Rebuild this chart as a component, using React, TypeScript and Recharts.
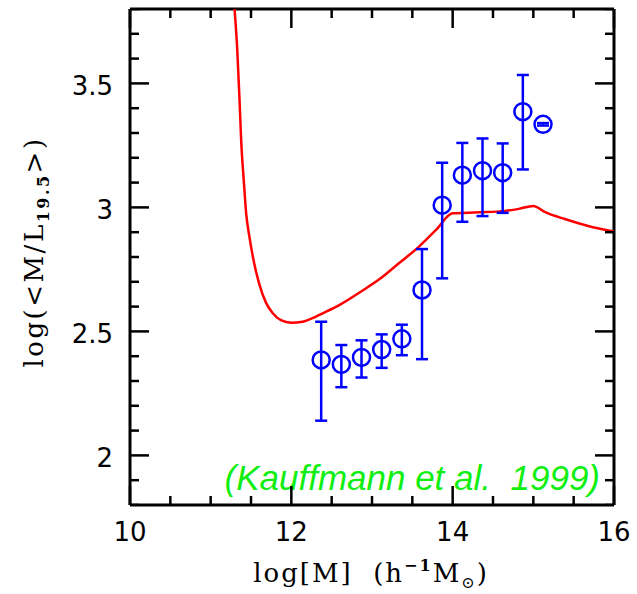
import {
  ComposedChart,
  Line,
  Scatter,
  ErrorBar,
  XAxis,
  YAxis,
  ReferenceLine,
} from "recharts";

// binned mass-to-light ratios with their error ranges
const massBins = [12.37, 12.62, 12.87, 13.12, 13.37, 13.62, 13.87, 14.12, 14.37, 14.62, 14.87, 15.12];
const mlValues = [2.385, 2.367, 2.395, 2.427, 2.47, 2.667, 3.009, 3.13, 3.148, 3.14, 3.386, 3.335];
const mlLower = [2.14, 2.275, 2.314, 2.353, 2.404, 2.388, 2.714, 2.942, 2.965, 2.978, 3.153, 3.33];
const mlUpper = [2.539, 2.445, 2.464, 2.488, 2.527, 2.832, 3.18, 3.26, 3.278, 3.258, 3.534, 3.34];

// model curve
const modelMass = [
  11.296, 11.33, 11.358, 11.378, 11.41, 11.44, 11.48, 11.54, 11.6, 11.69, 11.77, 11.87, 12.0,
  12.14, 12.3, 12.39, 12.61, 12.86, 13.09, 13.33, 13.58, 13.79, 14.0, 14.32, 14.65, 14.82,
  15.0, 15.14, 15.39, 15.68, 16.0,
];
const modelML = [
  3.8, 3.634, 3.433, 3.271, 3.11, 2.976, 2.882, 2.774, 2.694, 2.613, 2.573, 2.545, 2.535,
  2.539, 2.559, 2.573, 2.609, 2.66, 2.71, 2.774, 2.841, 2.908, 2.976, 2.98, 2.986, 2.994,
  3.006, 2.982, 2.953, 2.925, 2.903,
];

const xTicks = [10, 10.5, 11, 11.5, 12, 12.5, 13, 13.5, 14, 14.5, 15, 15.5, 16];
const xMajor = [10, 12, 14, 16];
const yTicks = [
  1.8, 1.9, 2.0, 2.1, 2.2, 2.3, 2.4, 2.5, 2.6, 2.7, 2.8, 2.9, 3.0, 3.1, 3.2, 3.3, 3.4, 3.5,
  3.6, 3.7, 3.8,
];
const yMajor = [2, 2.5, 3, 3.5];

const X_MIN = 10;
const X_MAX = 16;
const Y_MIN = 1.8;
const Y_MAX = 3.8;

const W = 637;
const H = 594;
const LEFT = 130;
const RIGHT = 614;
const TOP = 9;
const BOTTOM = 505;
const MINOR = 9;
const MAJOR = 19;

const isMajor = (v: number, list: number[]) => list.some((m) => Math.abs(m - v) < 1e-6);

const dataPoints = massBins.map((x, i) => ({
  kind: "point",
  x,
  y: mlValues[i],
  err: [mlValues[i] - mlLower[i], mlUpper[i] - mlValues[i]],
}));

// frame ticks: anchored on the frame, dx/dy point inwards
const frameTicks = [
  ...xTicks.flatMap((v) => {
    const len = isMajor(v, xMajor) ? MAJOR : MINOR;
    return [
      { kind: "tick", x: v, y: Y_MIN, dx: 0, dy: -1, len },
      { kind: "tick", x: v, y: Y_MAX, dx: 0, dy: 1, len },
    ];
  }),
  ...yTicks.flatMap((v) => {
    const len = isMajor(v, yMajor) ? MAJOR : MINOR;
    return [
      { kind: "tick", x: X_MIN, y: v, dx: 1, dy: 0, len },
      { kind: "tick", x: X_MAX, y: v, dx: -1, dy: 0, len },
    ];
  }),
];

const marks = [...frameTicks, ...dataPoints];
const curve = modelMass.map((x, i) => ({ x, y: modelML[i] }));

const Mark = (props: any) => {
  const { cx, cy, payload } = props;
  if (payload.kind === "tick") {
    return (
      <line
        x1={cx}
        y1={cy}
        x2={cx + payload.dx * payload.len}
        y2={cy + payload.dy * payload.len}
        stroke="#000"
        strokeWidth={2.5}
      />
    );
  }
  return <circle cx={cx} cy={cy} r={8.5} fill="none" stroke="#0000ff" strokeWidth={2.5} />;
};

const XLabel = (props: any) => {
  const { x, payload } = props;
  if (!isMajor(payload.value, xMajor)) return <g />;
  return (
    <text x={x} y={BOTTOM + 36} textAnchor="middle" fontSize={26} fontFamily="DejaVu Sans" fill="#000">
      {payload.value}
    </text>
  );
};

const YLabel = (props: any) => {
  const { y, payload } = props;
  if (!isMajor(payload.value, yMajor)) return <g />;
  return (
    <text x={LEFT - 17} y={y + 11.5} textAnchor="end" fontSize={26} fontFamily="DejaVu Sans" fill="#000">
      {String(Math.round(payload.value * 10) / 10)}
    </text>
  );
};

export default function App() {
  return (
    <div style={{ position: "absolute", left: 0, top: 0, background: "#fff" }}>
      <ComposedChart
        width={W}
        height={H}
        margin={{ top: TOP, right: W - RIGHT, bottom: 0, left: 0 }}
      >
        <XAxis
          dataKey="x"
          type="number"
          domain={[X_MIN, X_MAX]}
          ticks={xTicks}
          interval={0}
          height={H - BOTTOM}
          tickSize={0}
          tickMargin={0}
          tickLine={false}
          axisLine={{ stroke: "#000", strokeWidth: 3 }}
          tick={XLabel}
        />
        <YAxis
          type="number"
          domain={[Y_MIN, Y_MAX]}
          allowDataOverflow
          ticks={yTicks}
          interval={0}
          width={LEFT}
          tickSize={0}
          tickMargin={0}
          tickLine={false}
          axisLine={{ stroke: "#000", strokeWidth: 3 }}
          tick={YLabel}
        />
        <ReferenceLine y={Y_MAX} stroke="#000" strokeWidth={3} />
        <ReferenceLine x={X_MAX} stroke="#000" strokeWidth={3} />
        <Line
          data={curve}
          dataKey="y"
          type="monotone"
          stroke="#ff0000"
          strokeWidth={2.5}
          dot={false}
          activeDot={false}
          isAnimationActive={false}
        />
        <Scatter data={marks} dataKey="y" shape={Mark} isAnimationActive={false}>
          <ErrorBar dataKey="err" direction="y" width={6} stroke="#0000ff" strokeWidth={2.5} isAnimationActive={false} />
        </Scatter>
        <text
          x={600}
          y={490}
          textAnchor="end"
          fontSize={35}
          fontStyle="italic"
          fontFamily="Liberation Sans"
          fill="#11ee11"
          style={{ whiteSpace: "pre" }}
        >
          (Kauffmann et al.  1999)
        </text>
        <text
          x={371}
          y={582}
          textAnchor="middle"
          fontSize={26}
          letterSpacing={2}
          fontFamily="DejaVu Serif"
          fill="#000"
          style={{ whiteSpace: "pre" }}
        >
          log[M]  (h
          <tspan fontSize={16} fontWeight="bold" dy={-11}>−1</tspan>
          <tspan dy={11}>M</tspan>
          <tspan fontSize={16} dy={6}>⊙</tspan>
          <tspan dy={-6}>)</tspan>
        </text>
        <text
          x={0}
          y={0}
          transform="translate(43,252) rotate(-90)"
          textAnchor="middle"
          fontSize={26}
          letterSpacing={2.5}
          fontFamily="DejaVu Serif"
          fill="#000"
        >
          log(&lt;M/L
          <tspan fontSize={16} fontWeight="bold" dy={6}>19.5</tspan>
          <tspan dy={-6}>&gt;)</tspan>
        </text>
      </ComposedChart>
    </div>
  );
}
